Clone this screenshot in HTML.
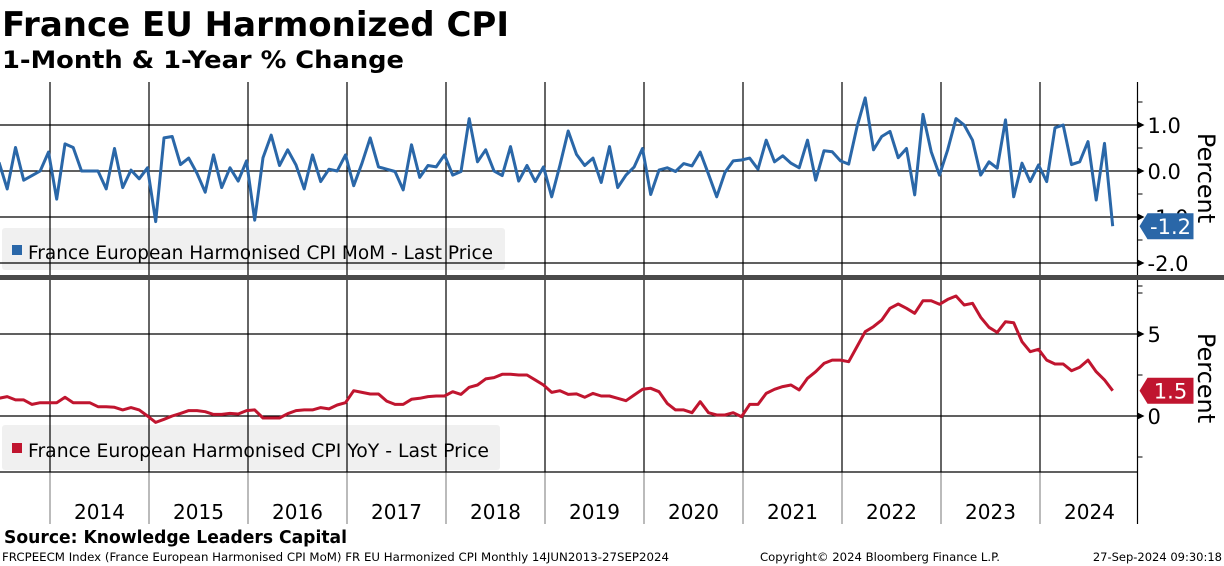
<!DOCTYPE html>
<html><head><meta charset="utf-8"><style>
body{margin:0;background:#fff;width:1224px;height:566px;overflow:hidden;font-family:"Liberation Sans","DejaVu Sans",sans-serif}
svg{position:absolute;left:0;top:0}
</style></head><body>
<svg width="1224" height="566" viewBox="0 0 1224 566">
<text x="2" y="36" font-size="34" font-weight="bold" font-family="'DejaVu Sans',sans-serif" textLength="507" lengthAdjust="spacingAndGlyphs">France EU Harmonized CPI</text>
<text x="2" y="68" font-size="24" font-weight="bold" font-family="'DejaVu Sans',sans-serif" textLength="402" lengthAdjust="spacingAndGlyphs">1-Month &amp; 1-Year % Change</text>
<rect x="2" y="228" width="503" height="42" fill="#f0f0f0" rx="3"/>
<rect x="12" y="245" width="10" height="10" fill="#2a67a8"/>
<text x="28" y="259" font-size="19" font-family="'DejaVu Sans',sans-serif" textLength="465" lengthAdjust="spacingAndGlyphs">France European Harmonised CPI MoM - Last Price</text>
<rect x="2" y="425" width="498" height="45" fill="#f0f0f0" rx="3"/>
<rect x="12" y="443" width="10" height="10" fill="#c0152f"/>
<text x="28" y="457" font-size="19" font-family="'DejaVu Sans',sans-serif" textLength="461" lengthAdjust="spacingAndGlyphs">France European Harmonised CPI YoY - Last Price</text>
<g id="grid"></g>
<rect x="0" y="275" width="1224" height="5" fill="#4a4a4a"/>
<g id="series"></g>
<text transform="translate(1198,178) rotate(90)" text-anchor="middle" font-size="24" font-family="'DejaVu Sans',sans-serif">Percent</text>
<text transform="translate(1198,378) rotate(90)" text-anchor="middle" font-size="24" font-family="'DejaVu Sans',sans-serif">Percent</text>
<text x="4" y="543" font-size="18" font-weight="bold" font-family="'DejaVu Sans',sans-serif" textLength="343" lengthAdjust="spacingAndGlyphs">Source: Knowledge Leaders Capital</text>
<text x="2" y="561" font-size="11.5" font-family="'DejaVu Sans',sans-serif" textLength="667" lengthAdjust="spacingAndGlyphs">FRCPEECM Index (France European Harmonised CPI MoM) FR EU Harmonized CPI  Monthly 14JUN2013-27SEP2024</text>
<text x="760" y="561" font-size="11.5" font-family="'DejaVu Sans',sans-serif" textLength="240" lengthAdjust="spacingAndGlyphs">Copyright© 2024 Bloomberg Finance L.P.</text>
<text x="1222" y="561" text-anchor="end" font-size="11.5" font-family="'DejaVu Sans',sans-serif">27-Sep-2024 09:30:18</text>
</svg>
<script>
const years=["2014","2015","2016","2017","2018","2019","2020","2021","2022","2023","2024"];
const momTicks=[1.0,0.0,-1.0,-2.0];
const momTickLabels=["1.0","0.0","-1.0","-2.0"];
const yoyTicks=[5,0];
const yoyTickLabels=["5","0"];
const mom=[0.19,-0.39,0.51,-0.2,-0.1,0,0.41,-0.61,0.59,0.51,0,0,0,-0.39,0.49,-0.36,0.02,-0.17,0.07,-1.1,0.72,0.75,0.14,0.28,-0.05,-0.46,0.35,-0.36,0.07,-0.22,0.22,-1.07,0.29,0.78,0.12,0.46,0.13,
-0.39,0.35,-0.23,0.04,0,0.35,-0.32,0.17,0.72,0.09,0.04,-0.01,-0.41,0.57,-0.14,0.12,0.09,0.35,-0.09,-0.01,1.14,0.2,0.46,0,-0.1,0.53,-0.22,0.12,-0.23,0.09,-0.56,0.13,0.87,0.36,
0.12,0.28,-0.25,0.53,-0.36,-0.09,0.09,0.49,-0.51,0.02,0.07,-0.01,0.16,0.11,0.41,-0.07,-0.56,-0.03,0.22,0.24,0.28,0.04,0.67,0.2,0.33,0.17,0.07,0.67,-0.2,0.44,0.42,0.22,0.15,0.96,1.59,
0.46,0.75,0.86,0.29,0.49,-0.52,1.23,0.42,-0.09,0.46,1.14,1.0,0.67,-0.09,0.2,0.06,1.11,-0.56,0.17,-0.23,0.13,-0.23,0.94,1.0,0.14,0.2,0.64,-0.63,0.6,-1.2];
const yoy=[1.08,1.18,0.98,0.98,0.71,0.81,0.81,0.81,1.14,0.81,0.81,0.81,0.57,0.57,0.53,0.37,0.51,0.37,0,-0.39,-0.2,0,0.16,0.33,0.33,0.26,0.1,0.1,0.16,0.12,0.33,0.37,-0.12,-0.12,-0.12,0.14,0.33,
0.37,0.37,0.51,0.43,0.67,0.81,1.54,1.44,1.34,1.34,0.91,0.71,0.71,1.02,1.08,1.18,1.22,1.22,1.48,1.32,1.75,1.89,2.26,2.34,2.54,2.54,2.5,2.5,2.2,1.89,1.44,1.54,1.32,1.35,
1.14,1.38,1.22,1.22,1.08,0.93,1.28,1.63,1.69,1.48,0.77,0.37,0.37,0.2,0.87,0.2,0.06,0.06,0.2,-0.04,0.71,0.71,1.38,1.63,1.79,1.89,1.59,2.3,2.7,3.21,3.41,3.41,3.31,4.23,5.14,
5.45,5.85,6.57,6.83,6.57,6.26,7.03,7.03,6.81,7.11,7.32,6.77,6.87,6.02,5.41,5.1,5.75,5.69,4.53,3.92,4.07,3.41,3.17,3.17,2.76,2.97,3.41,2.7,2.2,1.54];
const NS="http://www.w3.org/2000/svg";
const xOf=i=>1112.7-(mom.length-1-i)*8.25;
const yMom=v=>171-v*46;
const yYoy=v=>416-v*16.4;
const yearX=k=>50+k*99;
const AX=1137.5;
function mk(tag,attrs,parent){const e=document.createElementNS(NS,tag);for(const k in attrs)e.setAttribute(k,attrs[k]);parent.appendChild(e);return e;}
const grid=document.getElementById('grid'), ser=document.getElementById('series');
years.forEach((y,k)=>{const x=yearX(k);
 let l=mk('line',{x1:x,y1:82,x2:x,y2:472,stroke:'#000','stroke-width':1.2},grid);
 
 
 let t=mk('line',{x1:x,y1:472,x2:x,y2:524,stroke:'#777','stroke-width':1},grid);
 
 
 let lb=mk('text',{x:x+49.5,y:519,'text-anchor':'middle','font-size':20,'font-family':"'DejaVu Sans',sans-serif"},grid);
 lb.textContent=y;
 
 
});
mk('line',{x1:0,y1:472,x2:AX,y2:472,stroke:'#000','stroke-width':1.2},grid);
mk('line',{x1:AX,y1:82,x2:AX,y2:524,stroke:'#000','stroke-width':1.2},grid);
function ticks(vals,labels,yf,minor){
 vals.forEach((v,i)=>{const y=yf(v);
  let g=mk('line',{x1:0,y1:y,x2:AX,y2:y,stroke:'#000','stroke-width':1.2},grid);
  
  
  mk('path',{d:`M${AX} ${y-3.5}L${AX+7} ${y}L${AX} ${y+3.5}Z`,fill:'#000'},grid);
  let t=mk('text',{x:AX+10,y:y+8,'font-size':21,'font-family':"'DejaVu Sans',sans-serif"},grid);
  t.textContent=labels[i];
  
  
 });
 minor.forEach(v=>{const y=yf(v);mk('line',{x1:AX,y1:y,x2:AX+5,y2:y,stroke:'#000','stroke-width':1},grid);});
}
ticks(momTicks,momTickLabels,yMom,[1.5,0.5,-0.5,-1.5,-2.5]);
ticks(yoyTicks,yoyTickLabels,yYoy,[7.5,2.5,-2.5]);
function line(data,yf,color,name){
 const p=mk('polyline',{points:data.map((v,i)=>xOf(i).toFixed(1)+','+yf(v).toFixed(1)).join(' '),fill:'none',stroke:color,'stroke-width':3,'stroke-linejoin':'round'},ser);
 
 
}
line(mom,yMom,'#2a67a8','mom-line');
line(yoy,yYoy,'#c0152f','yoy-line');
function tag(v,yf,color,name){const y=yf(v);
 const g=mk('g',{},ser);
 
 
 mk('path',{d:`M${AX+2} ${y}L${AX+10} ${y-13}L${AX+56} ${y-13}L${AX+56} ${y+13}L${AX+10} ${y+13}Z`,fill:color},g);
 const t=mk('text',{x:AX+33,y:y+8,'text-anchor':'middle','font-size':21,fill:'#fff','font-family':"'DejaVu Sans',sans-serif"},g);
 t.textContent=v.toFixed(1);
}
tag(mom[mom.length-1],yMom,'#2a67a8','mom-last-value-tag');
tag(yoy[yoy.length-1],yYoy,'#c0152f','yoy-last-value-tag');
</script>
</body></html>
